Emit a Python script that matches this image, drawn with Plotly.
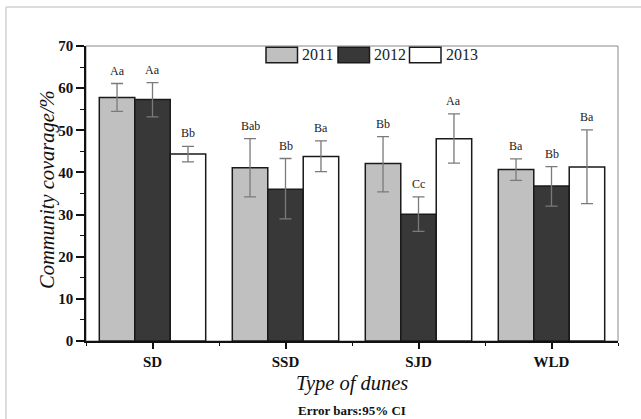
import plotly.graph_objects as go

categories = ["SD", "SSD", "SJD", "WLD"]
years = ["2011", "2012", "2013"]
values = {
    "2011": [57.8, 41.1, 42.1, 40.7],
    "2012": [57.3, 36.0, 30.1, 36.8],
    "2013": [44.4, 43.8, 48.0, 41.3],
}
err_upper = {
    "2011": [61.1, 48.0, 48.5, 43.2],
    "2012": [61.3, 43.3, 34.2, 41.4],
    "2013": [46.2, 47.5, 53.9, 50.1],
}
err_lower = {
    "2011": [54.5, 34.2, 35.4, 38.1],
    "2012": [53.2, 29.0, 26.0, 32.0],
    "2013": [42.5, 40.2, 42.2, 32.6],
}
letters = {
    "2011": ["Aa", "Bab", "Bb", "Ba"],
    "2012": ["Aa", "Bb", "Cc", "Bb"],
    "2013": ["Bb", "Ba", "Aa", "Ba"],
}
colors = {"2011": "#c0c0c0", "2012": "#383838", "2013": "#ffffff"}

W, H = 641, 419
ML, MR, MT, MB = 86, 23, 46, 78
PW, PH = W - ML - MR, H - MT - MB

def px(x):
    return (x - ML) / PW

def py(y):
    return (H - MB - y) / PH

SERIF = "Liberation Serif, Times New Roman, serif"

fig = go.Figure()
xs = list(range(len(categories)))
for yr in years:
    v = values[yr]
    fig.add_trace(go.Bar(
        x=xs, y=v, name=yr, showlegend=False,
        marker=dict(color=colors[yr], line=dict(color="#1a1a1a", width=1.5)),
        error_y=dict(type="data", symmetric=False,
                     array=[u - b for u, b in zip(err_upper[yr], v)],
                     arrayminus=[b - l for b, l in zip(v, err_lower[yr])],
                     color="#7a7a7a", thickness=1.3, width=6),
    ))

bw = 0.8 / 3
annotations = []
for i, yr in enumerate(years):
    off = (i - 1) * bw
    for j in range(len(categories)):
        annotations.append(dict(
            x=j + off, y=err_upper[yr][j], xref="x", yref="y",
            text=letters[yr][j], showarrow=False, yanchor="bottom", yshift=4,
            font=dict(family=SERIF, size=12, color="#222")))

shapes = [
    dict(type="rect", xref="paper", yref="paper", x0=0, x1=1, y0=0, y1=1,
         line=dict(color="#8a8a8a", width=1), layer="below"),
    dict(type="line", xref="paper", yref="paper", x0=px(6), x1=px(6),
         y0=py(7), y1=py(H), line=dict(color="#d0d0d0", width=1.5)),
    dict(type="line", xref="paper", yref="paper", x0=px(6), x1=px(W),
         y0=py(7), y1=py(7), line=dict(color="#d0d0d0", width=1.5)),
]

leg_x = [266, 338, 409.5]
for i, yr in enumerate(years):
    x0 = leg_x[i]
    shapes.append(dict(type="rect", xref="paper", yref="paper",
                       x0=px(x0), x1=px(x0 + 31.5), y0=py(62.7), y1=py(47.3),
                       fillcolor=colors[yr], line=dict(color="#1a1a1a", width=1.5)))
    annotations.append(dict(x=px(x0 + 34), y=py(55), xref="paper", yref="paper",
                            text=yr, showarrow=False, xanchor="left", yanchor="middle",
                            font=dict(family=SERIF, size=16, color="#222")))

annotations.append(dict(x=0.5, y=py(383), xref="paper", yref="paper",
                        text="<i>Type of dunes</i>", showarrow=False,
                        xanchor="center", yanchor="middle",
                        font=dict(family=SERIF, size=20.5, color="#111")))
annotations.append(dict(x=px(47), y=py(190), xref="paper", yref="paper",
                        text="<i>Community covarage/%</i>", showarrow=False, textangle=-90,
                        xanchor="center", yanchor="middle",
                        font=dict(family=SERIF, size=20.5, color="#111")))
annotations.append(dict(x=0.5, y=py(410), xref="paper", yref="paper",
                        text="<b>Error bars:95% CI</b>", showarrow=False,
                        xanchor="center", yanchor="middle",
                        font=dict(family=SERIF, size=13, color="#111")))

fig.update_layout(
    width=W, height=H,
    margin=dict(l=ML, r=MR, t=MT, b=MB),
    paper_bgcolor="white", plot_bgcolor="white",
    barmode="group", bargap=0.2, bargroupgap=0,
    shapes=shapes, annotations=annotations,
    font=dict(family=SERIF, color="#111"),
    hovermode=False,
)
fig.update_xaxes(
    automargin=False,
    range=[-0.5, 3.5], tickvals=xs, ticktext=[f"<b>{c}</b>" for c in categories],
    showline=True, linecolor="#111", linewidth=1.5, showgrid=False, zeroline=False,
    ticks="outside", ticklen=6, tickwidth=1.5, tickcolor="#111",
    minor=dict(tickvals=[-0.5, 0.5, 1.5, 2.5, 3.5], ticks="outside", ticklen=3,
               tickwidth=1.2, tickcolor="#111", showgrid=False),
    tickfont=dict(family=SERIF, size=15, color="#111"),
)
fig.update_yaxes(
    automargin=False,
    range=[0, 70], dtick=10, tick0=0,
    showline=True, linecolor="#111", linewidth=1.5, showgrid=False, zeroline=False,
    ticks="outside", ticklen=8, tickwidth=1.5, tickcolor="#111",
    minor=dict(dtick=5, ticks="outside", ticklen=4, tickwidth=1.2, tickcolor="#111",
               showgrid=False),
    tickfont=dict(family=SERIF, size=15, color="#111"),
    tickprefix="<b>", ticksuffix="</b>",
)

fig.write_html("out.html", config={"displayModeBar": False},
               post_script="document.body.style.margin='0';document.body.style.overflow='hidden';")
